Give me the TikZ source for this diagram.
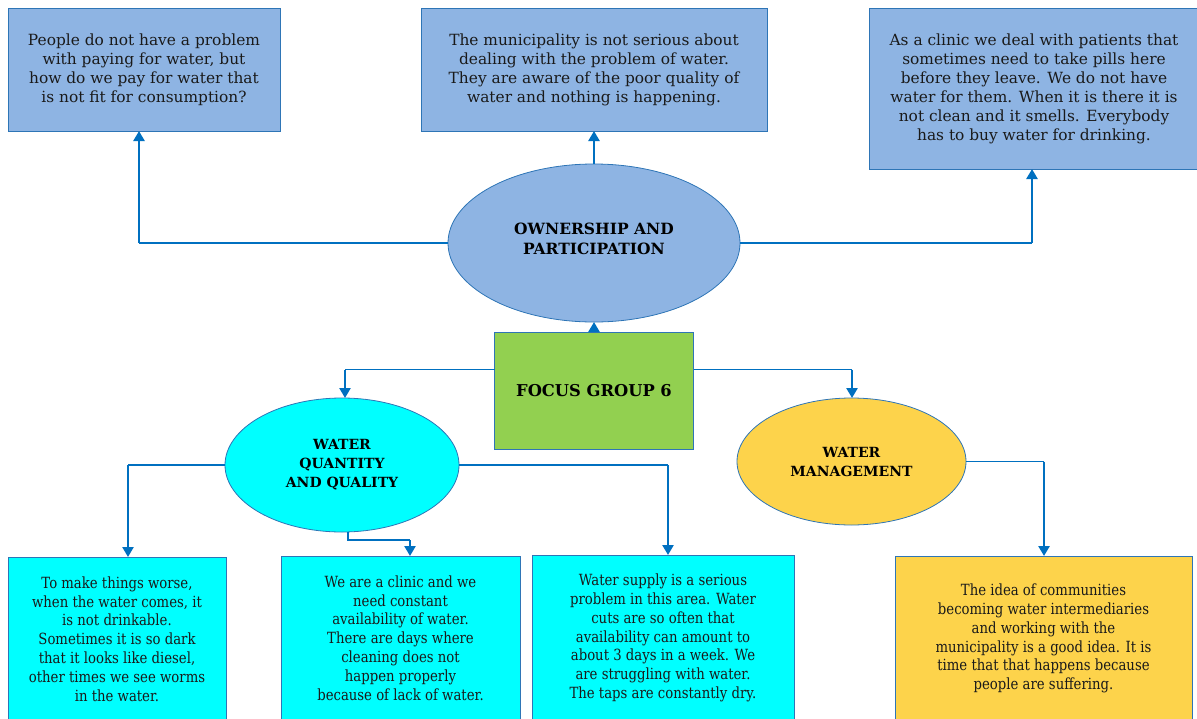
\documentclass[tikz,border=0pt]{standalone}
\usepackage{fontspec}
\setmainfont{DejaVu Serif}
\newfontfamily\narrowserif[FakeStretch=0.86]{DejaVu Serif}
\usetikzlibrary{shapes.geometric,arrows.meta}
\definecolor{boxblue}{HTML}{8EB4E3}
\definecolor{edge}{HTML}{2E75B6}
\definecolor{linkblue}{HTML}{0070C0}
\definecolor{aqua}{HTML}{00FFFF}
\definecolor{leaf}{HTML}{92D050}
\definecolor{sun}{HTML}{FDD34B}
\definecolor{ink}{HTML}{1A1A1A}
\begin{document}
\begin{tikzpicture}[x=1pt,y=-1pt,
  card/.style={draw=edge,line width=1pt,rectangle,inner sep=0pt,outer sep=0pt,
    align=center,text=ink,font=\fontsize{15.4}{19}\selectfont},
  lowcard/.style={card,font=\narrowserif\fontsize{15.4}{18.8}\selectfont},
  hub/.style={draw=edge,line width=0.8pt,ellipse,inner sep=0pt,outer sep=0pt,
    align=center,text=black,font=\bfseries\fontsize{15.5}{20}\selectfont},
  smallhub/.style={hub,font=\bfseries\fontsize{14}{19}\selectfont},
  leg/.style={draw=linkblue,line width=1.3pt},
  shaft/.style={draw=linkblue,line width=2.6pt,-{Triangle[length=10pt,width=11pt]}}]

\useasboundingbox (0,0) rectangle (1197,718);
\clip (0,0) rectangle (1197,718);

% upper quotation boxes
\node[card,fill=boxblue,minimum width=272,minimum height=123] (a) at (144,69.5)
  {People do not have a problem\\with paying for water, but\\how do we pay for water that\\is not fit for consumption?};
\node[card,fill=boxblue,minimum width=346,minimum height=123] (b) at (594,69.5)
  {The municipality is not serious about\\dealing with the problem of water.\\They are aware of the poor quality of\\water and nothing is happening.};
\node[card,fill=boxblue,minimum width=330,minimum height=161] (c) at (1034,88.5)
  {As a clinic we deal with patients that\\sometimes need to take pills here\\before they leave. We do not have\\water for them. When it is there it is\\not clean and it smells. Everybody\\has to buy water for drinking.};

% theme ellipses and the focus group
\node[hub,fill=boxblue,minimum width=292,minimum height=158] (op) at (594,243)
  {OWNERSHIP AND\\PARTICIPATION\\[-12pt]\mbox{}};
\node[card,fill=leaf,minimum width=199,minimum height=117,
  font=\bfseries\fontsize{16.3}{20}\selectfont,text=black] (fg) at (594,390.5)
  {FOCUS GROUP 6};
\node[smallhub,fill=aqua,minimum width=234,minimum height=134] (wqq) at (342,465)
  {WATER\\QUANTITY\\AND QUALITY};
\node[smallhub,fill=sun,minimum width=229,minimum height=127] (wm) at (851.5,461.5)
  {WATER\\MANAGEMENT};

% lower quotation boxes
\node[lowcard,fill=aqua,minimum width=218,minimum height=164] (d) at (117,639)
  {To make things worse,\\when the water comes, it\\is not drinkable.\\Sometimes it is so dark\\that it looks like diesel,\\other times we see worms\\in the water.};
\node[lowcard,fill=aqua,minimum width=239,minimum height=164] (e) at (400.5,638)
  {We are a clinic and we\\need constant\\availability of water.\\There are days where\\cleaning does not\\happen properly\\because of lack of water.};
\node[lowcard,fill=aqua,minimum width=262,minimum height=166] (f) at (663,638)
  {Water supply is a serious\\problem in this area. Water\\cuts are so often that\\availability can amount to\\about 3 days in a week. We\\are struggling with water.\\The taps are constantly dry.};
\node[lowcard,fill=sun,minimum width=297,minimum height=165] (g) at (1043.5,638.5)
  {The idea of communities\\becoming water intermediaries\\and working with the\\municipality is a good idea. It is\\time that that happens because\\people are suffering.};

% columns of the vertical arrows
\coordinate (ax) at (139,0);
\coordinate (cx) at (1032,0);
\coordinate (qx) at (345,0);
\coordinate (mx) at (852,0);
\coordinate (dx) at (128,0);
\coordinate (ex) at (410,0);
\coordinate (fx) at (668,0);
\coordinate (gx) at (1044,0);
\coordinate (edrop) at (348,540);

% bends of the elbow connectors
\coordinate (aturn) at (op.west -| ax);
\coordinate (cturn) at (op.east -| cx);
\coordinate (fgL) at ([yshift=21pt]fg.west);
\coordinate (fgR) at ([yshift=21pt]fg.east);
\coordinate (qturn) at (fgL -| qx);
\coordinate (mturn) at (fgR -| mx);
\coordinate (dturn) at (wqq.west -| dx);
\coordinate (eturn) at (edrop -| ex);
\coordinate (fturn) at (wqq.east -| fx);
\coordinate (gturn) at (wm.east -| gx);

% ownership and participation to its quotations
\draw[shaft] (op.north) -- (b.south);
\draw[leg] (op.west) -- (aturn);
\draw[shaft] (aturn) -- (aturn |- a.south);
\draw[leg] (op.east) -- (cturn);
\draw[shaft] (cturn) -- (cturn |- c.south);

% focus group to the three themes
\draw[shaft] (fg.north) -- (op.south);
\draw[leg] (fgL) -- (qturn);
\draw[shaft] (qturn) -- (qturn |- wqq.north);
\draw[leg] (fgR) -- (mturn);
\draw[shaft] (mturn) -- (mturn |- wm.north);

% water quantity and quality to its quotations
\draw[leg] (wqq.west) -- (dturn);
\draw[shaft] (dturn) -- (dturn |- d.north);
\draw[leg] (wqq.south -| edrop) -- (edrop) -- (eturn);
\draw[shaft] (eturn) -- (eturn |- e.north);
\draw[leg] (wqq.east) -- (fturn);
\draw[shaft] (fturn) -- (fturn |- f.north);

% water management to its quotation
\draw[leg] (wm.east) -- (gturn);
\draw[shaft] (gturn) -- (gturn |- g.north);
\end{tikzpicture}
\end{document}
